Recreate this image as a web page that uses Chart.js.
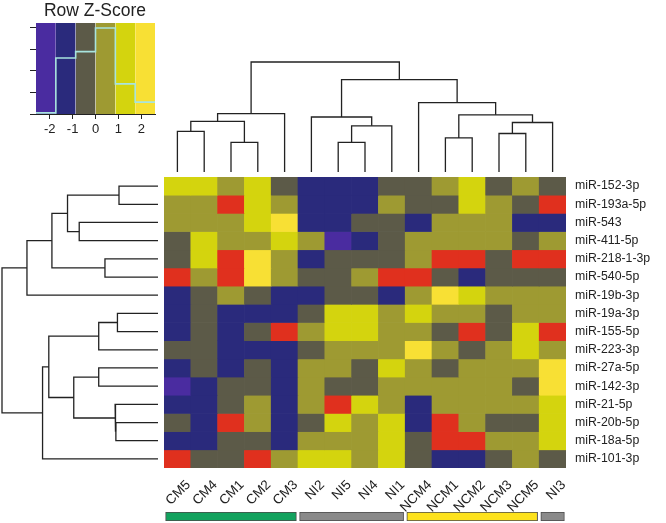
<!DOCTYPE html>
<html>
<head>
<meta charset="utf-8">
<script src="https://cdn.jsdelivr.net/npm/chart.js@4.4.0/dist/chart.umd.min.js"></script>
<style>
  html, body { margin: 0; padding: 0; background: #fff; }
  #page { position: relative; width: 666px; height: 523px; overflow: hidden; background: #fff; }
  canvas { position: absolute; }
</style>
</head>
<body>
<div id="page">
  <canvas id="heat" width="666" height="523" style="left:0;top:0"></canvas>
  <canvas id="colDendro" width="422" height="130" style="left:154px;top:52px"></canvas>
  <canvas id="rowDendro" width="168" height="311" style="left:0;top:167px"></canvas>
  <canvas id="groupBar" width="422" height="18" style="left:154px;top:505px"></canvas>
  <canvas id="key" width="190" height="150" style="left:0;top:0"></canvas>
</div>
<script>
// columns / rows in dendrogram order
const columns = ['CM5', 'CM4', 'CM1', 'CM2', 'CM3', 'NI2', 'NI5', 'NI4', 'NI1', 'NCM4', 'NCM1', 'NCM2', 'NCM3', 'NCM5', 'NI3'];
const rows = ['miR-152-3p', 'miR-193a-5p', 'miR-543', 'miR-411-5p', 'miR-218-1-3p', 'miR-540-5p', 'miR-19b-3p',
  'miR-19a-3p', 'miR-155-5p', 'miR-223-3p', 'miR-27a-5p', 'miR-142-3p', 'miR-21-5p', 'miR-20b-5p', 'miR-18a-5p', 'miR-101-3p'];

// colour bin of every cell (one string per row, one letter per column)
// P=-2.6.. B G O Y L=..2.6, R=out of range (red)
const cellBins = [
  'YYOYGBBBGGOYGOG',
  'OORYOBBBOGGYOGR',
  'OOOYLBBGGBOOOBB',
  'GYOOYOPBGOOOOGO',
  'GYRLOBGGGORRGRR',
  'RORLOGGORRGBGGG',
  'BGOGBBGGBOLYOOO',
  'BGBBBGYYOYOOGOO',
  'BGBGROYYOOGRGYR',
  'GGBBBGOOOLOGOYO',
  'BGBGBOOGYOGOOOL',
  'PBGGBOGGOOOOOGL',
  'BBGOBORYOBOOOOY',
  'GBROBGYOYBROGGY',
  'BBGGBOOOYGRROOY',
  'RGGROYYOYGBBGOG'
];
const binColors = { P: '#4a2ca0', B: '#2a2a7c', G: '#5c5a48', O: '#9e9a32', Y: '#d4d40e', L: '#f8e034', R: '#e0301e' };

// colour key
const keyEdges = [-2.6, -1.733, -0.867, 0, 0.867, 1.733, 2.6];
const keyBins = ['P', 'B', 'G', 'O', 'Y', 'L'];
const keyCounts = [1, 52, 58, 80, 28, 11];
const keyTicks = [-2, -1, 0, 1, 2];
const keyCountTicks = [0, 20, 40, 60, 80];
const keyMax = 84.6;

// dendrograms, hclust style: negative = leaf (1-based), positive = earlier merge
const colMerges = [
  [-1, -2, 0.37], [-3, -4, 0.27], [1, 2, 0.46], [3, -5, 0.53],
  [-7, -8, 0.27], [5, -9, 0.42], [-6, 6, 0.50],
  [-11, -12, 0.31], [-13, -14, 0.35], [9, -15, 0.45], [8, 10, 0.52], [-10, 11, 0.63],
  [7, 12, 0.84], [4, 13, 1.0]
];
const rowMerges = [
  [-1, -2, 0.25], [-3, -4, 0.505], [1, 2, 0.58], [-5, -6, 0.34], [3, 4, 0.68], [5, -7, 0.84],
  [-8, -9, 0.26], [7, -10, 0.38], [-11, -12, 0.38], [-14, -15, 0.27], [-13, 10, 0.275],
  [9, 11, 0.54], [8, 12, 0.70], [13, -16, 0.74], [6, 14, 1.0]
];

// sample groups under the columns
const groups = [
  { from: 0, to: 4, color: '#12a25e' },
  { from: 5, to: 8, color: '#8a8a8a' },
  { from: 9, to: 13, color: '#fde21c' },
  { from: 14, to: 14, color: '#8a8a8a' }
];

Chart.defaults.font.family = "'Liberation Sans', Arial, sans-serif";
Chart.defaults.animation = false;
Chart.defaults.plugins.legend.display = false;
Chart.defaults.plugins.tooltip.enabled = false;
Chart.defaults.events = [];

const ink = '#222';

// ---------------- heatmap
new Chart(document.getElementById('heat'), {
  type: 'bar',
  data: {
    labels: columns,
    datasets: rows.map((name, r) => ({
      label: name,
      data: columns.map(() => 1),
      backgroundColor: cellBins[r].split('').map(c => binColors[c]),
      borderWidth: 0,
      barPercentage: 1,
      categoryPercentage: 1,
      stack: 'cells'
    }))
  },
  options: {
    responsive: false,
    layout: { padding: { left: 164, top: 177, right: 0, bottom: 0 } },
    scales: {
      x: {
        stacked: true,
        grid: { display: false, drawTicks: false },
        border: { display: false },
        ticks: { autoSkip: false, minRotation: 45, maxRotation: 45, padding: 9, labelOffset: 11, color: ink, font: { size: 13.5 } },
        afterFit: s => { s.height = 55; }
      },
      y: { stacked: true, min: 0, max: rows.length, reverse: true, display: false },
      y2: {
        type: 'category',
        labels: rows,
        position: 'right',
        offset: true,
        grid: { display: false, drawTicks: false },
        border: { display: false },
        ticks: { padding: 9, color: ink, font: { size: 12.3 } },
        afterFit: s => { s.width = 100; }
      }
    }
  }
});

// ---------------- dendrograms
function dendroSegments(merges) {
  const pos = [], hgt = [], segs = [];
  const get = ref => ref < 0 ? [-ref - 1, 0] : [pos[ref - 1], hgt[ref - 1]];
  merges.forEach(([a, b, h]) => {
    const [pa, ha] = get(a);
    const [pb, hb] = get(b);
    segs.push([[pa, ha], [pa, h], [pb, h], [pb, hb]]);
    pos.push((pa + pb) / 2);
    hgt.push(h);
  });
  return segs;
}

const lineStyle = { showLine: true, borderColor: ink, borderWidth: 1.3, pointRadius: 0, clip: false };

new Chart(document.getElementById('colDendro'), {
  type: 'scatter',
  data: {
    datasets: dendroSegments(colMerges).map(seg => ({
      ...lineStyle,
      data: seg.map(([p, h]) => ({ x: p, y: h }))
    }))
  },
  options: {
    responsive: false,
    layout: { padding: { left: 10, right: 10, top: 10, bottom: 10 } },
    scales: {
      x: { type: 'linear', min: -0.5, max: columns.length - 0.5, display: false },
      y: { type: 'linear', min: 0, max: 1, display: false }
    }
  }
});

new Chart(document.getElementById('rowDendro'), {
  type: 'scatter',
  data: {
    datasets: dendroSegments(rowMerges).map(seg => ({
      ...lineStyle,
      data: seg.map(([p, h]) => ({ x: h, y: p }))
    }))
  },
  options: {
    responsive: false,
    layout: { padding: { left: 2, right: 10, top: 10, bottom: 10 } },
    scales: {
      x: { type: 'linear', min: 0, max: 1, reverse: true, display: false },
      y: { type: 'linear', min: -0.5, max: rows.length - 0.5, reverse: true, display: false }
    }
  }
});

// ---------------- group bar
new Chart(document.getElementById('groupBar'), {
  type: 'bar',
  data: {
    labels: ['group'],
    datasets: groups.map(g => ({
      data: [[g.from - 0.44, g.to + 0.44]],
      backgroundColor: g.color,
      borderColor: '#4a4a4a',
      borderWidth: 1,
      borderSkipped: false,
      barPercentage: 1,
      categoryPercentage: 1,
      grouped: false
    }))
  },
  options: {
    responsive: false,
    indexAxis: 'y',
    layout: { padding: { left: 10, right: 10, top: 7, bottom: 2 } },
    scales: {
      x: { type: 'linear', min: -0.5, max: columns.length - 0.5, display: false },
      y: { display: false }
    }
  }
});

// ---------------- colour key
const keyDatasets = [{
  data: keyEdges.map((e, i) => ({ x: e, y: keyCounts[Math.min(i, keyCounts.length - 1)] })),
  showLine: true,
  stepped: 'before',
  borderColor: '#a8e4de',
  borderWidth: 1.6,
  pointRadius: 0,
  clip: false
}].concat(keyBins.map((b, i) => ({
  data: [{ x: keyEdges[i], y: 0 }, { x: keyEdges[i + 1], y: 0 }],
  showLine: true,
  fill: 'end',
  backgroundColor: binColors[b],
  borderColor: 'transparent',
  borderWidth: 0,
  pointRadius: 0
})));

new Chart(document.getElementById('key'), {
  type: 'scatter',
  data: { datasets: keyDatasets },
  options: {
    responsive: false,
    layout: { padding: 0 },
    plugins: {
      title: { display: true, text: 'Row Z-Score', color: ink, font: { size: 17.5, weight: 'normal' }, padding: { top: 1, bottom: 1 } }
    },
    scales: {
      x: {
        type: 'linear', min: keyEdges[0], max: keyEdges[keyEdges.length - 1],
        afterBuildTicks: s => { s.ticks = keyTicks.map(v => ({ value: v })); },
        grid: { drawOnChartArea: false, tickLength: 5, color: ink },
        border: { color: ink },
        ticks: { color: ink, font: { size: 13 }, padding: 3 },
        afterFit: s => { s.height = 36; }
      },
      y: {
        type: 'linear', min: 0, max: keyMax,
        afterBuildTicks: s => { s.ticks = keyCountTicks.map(v => ({ value: v })); },
        grid: { drawOnChartArea: false, tickLength: 6, color: ink },
        border: { color: ink },
        ticks: { callback: () => '' },
        afterFit: s => { s.width = 36; }
      },
      // empty right-hand axis: keeps the key narrow while the title centres on the whole canvas
      yPad: {
        type: 'linear', position: 'right', min: 0, max: keyMax,
        grid: { display: false, drawTicks: false },
        border: { display: false },
        ticks: { callback: () => '' },
        afterFit: s => { s.width = 35; }
      }
    }
  }
});
</script>
</body>
</html>
